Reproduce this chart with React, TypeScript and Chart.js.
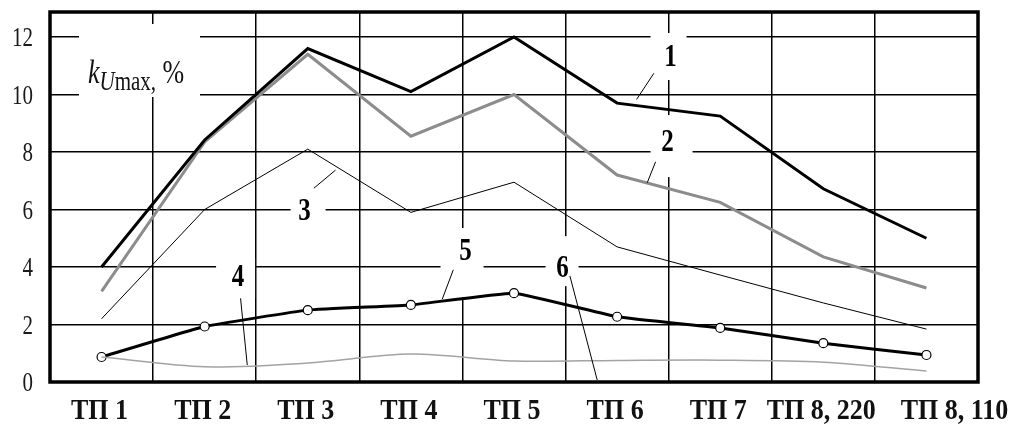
import React, { useEffect, useRef } from 'react';
import { Chart, registerables } from 'chart.js';

Chart.register(...registerables);

// ---------- data ----------
const categories = ['ТП 1', 'ТП 2', 'ТП 3', 'ТП 4', 'ТП 5', 'ТП 6', 'ТП 7', 'ТП 8, 220', 'ТП 8, 110'];
const curve1 = [4.0, 8.42, 11.6, 10.1, 12.0, 9.7, 9.25, 6.72, 5.0];
const curve2 = [3.15, 8.35, 11.4, 8.55, 10.0, 7.2, 6.25, 4.35, 3.27];
const curve3 = [2.2, 6.0, 8.1, 5.9, 6.95, 4.7, 3.72, 2.75, 1.84];
const curve4 = [0.87, 0.53, 0.66, 0.97, 0.73, 0.75, 0.76, 0.69, 0.38];
const curve5 = [0.87, 1.93, 2.5, 2.68, 3.09, 2.27, 1.88, 1.35, 0.94];

const yMin = 0;
const yMax = 12.87;
const yStep = 2;

// ---------- annotation config (data coordinates: category index, value) ----------
const curveLabels = [
  { text: '1', x: 5.518, y: 11.27, from: [5.357, 10.74], to: [5.189, 9.83], box: [-20, 16, -25, 22] },
  { text: '2', x: 5.489, y: 8.31, from: [5.373, 7.66], to: [5.292, 6.93], box: [-17, 25, -28, 34] },
  { text: '3', x: 1.969, y: 5.91, from: [2.059, 6.74], to: [2.269, 7.37], box: [-14, 21, -18, 18] },
  { text: '4', x: 1.324, y: 3.62, from: [1.348, 2.91], to: [1.413, 0.59], box: [-22, 17, -20, 20] },
  { text: '5', x: 3.53, y: 4.52, from: [3.411, 3.9], to: [3.304, 2.88], box: [-25, 18, -24, 45] },
  { text: '6', x: 4.471, y: 3.96, from: [4.542, 3.69], to: [4.807, 0.07], box: [-17, 16, -32, 18] },
];

const SERIF = '"Liberation Serif", "DejaVu Serif", serif';
const STRETCH = 1.3;
const X_LABEL_STRETCH = 1.1;
const LAST_X_LABEL_SHIFT = 28;

function stretchedText(
  ctx: CanvasRenderingContext2D,
  text: string,
  x: number,
  y: number,
  font: string,
  align: CanvasTextAlign,
  baseline: CanvasTextBaseline,
  color = '#000',
  stretch = STRETCH
) {
  ctx.save();
  ctx.font = font;
  ctx.fillStyle = color;
  ctx.textAlign = align;
  ctx.textBaseline = baseline;
  ctx.translate(x, y);
  ctx.scale(1, stretch);
  ctx.fillText(text, 0, 0);
  ctx.restore();
}

const decorPlugin = {
  id: 'decor',
  beforeDatasetsDraw(chart: any) {
    const { ctx, chartArea, scales } = chart;
    const xs = scales.x;
    const ys = scales.y;
    ctx.save();
    ctx.fillStyle = '#fff';
    // gap behind the axis title
    ctx.fillRect(chartArea.left + 29, chartArea.top + 12, 121, 73);
    for (const l of curveLabels) {
      const cx = xs.getPixelForValue(l.x);
      const cy = ys.getPixelForValue(l.y);
      ctx.fillRect(cx + l.box[0], cy + l.box[2], l.box[1] - l.box[0], l.box[3] - l.box[2]);
    }
    ctx.restore();
  },
  afterDatasetsDraw(chart: any) {
    const { ctx, chartArea, scales } = chart;
    const xs = scales.x;
    const ys = scales.y;

    // leader lines and curve numbers
    ctx.save();
    ctx.strokeStyle = '#000';
    ctx.lineWidth = 1;
    for (const l of curveLabels) {
      ctx.beginPath();
      ctx.moveTo(xs.getPixelForValue(l.from[0]), ys.getPixelForValue(l.from[1]));
      ctx.lineTo(xs.getPixelForValue(l.to[0]), ys.getPixelForValue(l.to[1]));
      ctx.stroke();
      stretchedText(ctx, l.text, xs.getPixelForValue(l.x), ys.getPixelForValue(l.y),
        `bold 25px ${SERIF}`, 'center', 'middle');
    }
    ctx.restore();

    // frame
    ctx.save();
    ctx.strokeStyle = '#000';
    ctx.lineWidth = 3.5;
    ctx.strokeRect(chartArea.left, chartArea.top, chartArea.right - chartArea.left, chartArea.bottom - chartArea.top);
    ctx.restore();

    // y tick labels
    for (const t of ys.ticks) {
      const py = ys.getPixelForValue(t.value);
      stretchedText(ctx, String(t.value), chartArea.left - 17, py + 2, `21px ${SERIF}`, 'right', 'middle', '#1a1a1a');
    }
    // x tick labels
    categories.forEach((c, i) => {
      const shift = i === categories.length - 1 ? LAST_X_LABEL_SHIFT : -2;
      stretchedText(ctx, c, xs.getPixelForValue(i) + shift, chartArea.bottom + 37,
        `bold 26px ${SERIF}`, 'center', 'alphabetic', '#111', X_LABEL_STRETCH);
    });

    // axis title  k_Umax, %
    ctx.save();
    let tx = chartArea.left + 38;
    const base = chartArea.top + 71;
    const sub = base + 7;
    const parts: [string, string, number][] = [
      ['k', `italic 26px ${SERIF}`, base],
      ['U', `italic 21px ${SERIF}`, sub],
      ['max', `21px ${SERIF}`, sub],
      [',', `21px ${SERIF}`, sub],
      [' %', `26px ${SERIF}`, base],
    ];
    for (const [txt, font, by] of parts) {
      ctx.font = font;
      const w = ctx.measureText(txt).width;
      stretchedText(ctx, txt, tx, by, font, 'left', 'alphabetic', '#111');
      tx += w;
    }
    ctx.restore();
  },
};

export default function App() {
  const canvasRef = useRef<HTMLCanvasElement | null>(null);

  useEffect(() => {
    if (!canvasRef.current) return;
    const chart = new Chart(canvasRef.current, {
      type: 'line',
      data: {
        labels: categories,
        datasets: [
          { data: curve1, borderColor: '#000', borderWidth: 3, pointRadius: 0, tension: 0 },
          { data: curve2, borderColor: '#8c8c8c', borderWidth: 3, pointRadius: 0, tension: 0 },
          { data: curve3, borderColor: '#000', borderWidth: 1, pointRadius: 0, tension: 0 },
          { data: curve4, borderColor: '#a3a3a3', borderWidth: 1.5, pointRadius: 0, tension: 0.3 },
          {
            data: curve5, borderColor: '#000', borderWidth: 3, tension: 0.1,
            pointRadius: 4.5, pointBackgroundColor: '#fff', pointBorderColor: '#000', pointBorderWidth: 1.2,
          },
        ],
      },
      options: {
        responsive: false,
        animation: false,
        devicePixelRatio: 1,
        layout: { padding: { top: 12, right: 31, left: 0, bottom: 0 } },
        plugins: { legend: { display: false }, tooltip: { enabled: false } },
        scales: {
          x: {
            type: 'category',
            offset: true,
            grid: { offset: true, color: '#000', lineWidth: 1.5, drawTicks: false },
            border: { display: false },
            ticks: { display: false },
            afterFit: (s: any) => { s.height = 44; },
          },
          y: {
            min: yMin,
            max: yMax,
            grid: { color: '#000', lineWidth: 1.5, drawTicks: false },
            border: { display: false },
            ticks: { display: false, stepSize: yStep, includeBounds: false },
            afterFit: (s: any) => { s.width = 50; },
          },
        },
      },
      plugins: [decorPlugin],
    } as any);
    return () => chart.destroy();
  }, []);

  return (
    <div style={{ position: 'absolute', left: 0, top: 0, width: 1009, height: 426, background: '#fff' }}>
      <canvas ref={canvasRef} width={1009} height={426} style={{ display: 'block' }} />
    </div>
  );
}
